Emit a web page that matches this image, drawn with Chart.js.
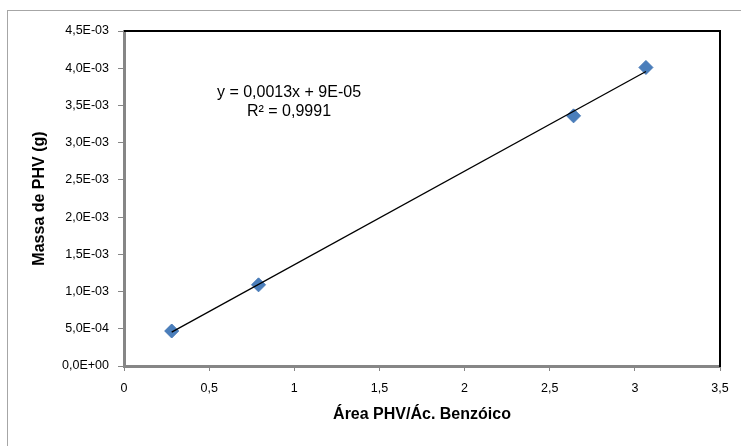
<!DOCTYPE html>
<html>
<head>
<meta charset="utf-8">
<script src="https://cdn.jsdelivr.net/npm/chart.js@4/dist/chart.umd.min.js"></script>
<style>
  html, body { margin: 0; padding: 0; background: #fff; }
  canvas { display: block; }
</style>
</head>
<body>
<canvas id="phvChart" width="741" height="446"></canvas>
<script>
// calibração: razão de áreas PHV / ácido benzoico vs massa de PHV
const areaRatio = [0.28, 0.79, 2.64, 3.065];
const massaPHV = [4.7e-4, 1.09e-3, 3.36e-3, 4.01e-3];
const xTicks = [0, 0.5, 1, 1.5, 2, 2.5, 3, 3.5];
const yTicks = [0, 5e-4, 1e-3, 1.5e-3, 2e-3, 2.5e-3, 3e-3, 3.5e-3, 4e-3, 4.5e-3];
const equationLines = ['y = 0,0013x + 9E-05', 'R² = 0,9991'];
const xTitle = 'Área PHV/Ác. Benzóico';
const yTitle = 'Massa de PHV (g)';

const FONT = '"Liberation Sans", Arial, sans-serif';

// regressão linear simples para a linha de tendência
function linearFit(xs, ys) {
  const n = xs.length;
  const mx = xs.reduce((a, b) => a + b, 0) / n;
  const my = ys.reduce((a, b) => a + b, 0) / n;
  let sxy = 0, sxx = 0;
  for (let i = 0; i < n; i++) {
    sxy += (xs[i] - mx) * (ys[i] - my);
    sxx += (xs[i] - mx) ** 2;
  }
  const slope = sxy / sxx;
  return { slope, intercept: my - slope * mx };
}

const fit = linearFit(areaRatio, massaPHV);
const xMin = Math.min(...areaRatio);
const xMax = Math.max(...areaRatio);
const trendPoints = [
  { x: xMin, y: fit.slope * xMin + fit.intercept },
  { x: xMax, y: fit.slope * xMax + fit.intercept }
];

function sciLabel(v) {
  if (Math.abs(v) < 1e-12) return '0,0E+00';
  const parts = v.toExponential(1).split('e');
  const exp = parseInt(parts[1], 10);
  return parts[0].replace('.', ',') + 'E' + (exp < 0 ? '-' : '+') + String(Math.abs(exp)).padStart(2, '0');
}

const extras = {
  id: 'extras',
  beforeDraw(chart) {
    const ctx = chart.ctx;
    ctx.save();
    ctx.fillStyle = '#fff';
    ctx.fillRect(0, 0, chart.width, chart.height);
    // moldura externa
    ctx.strokeStyle = '#a6a6a6';
    ctx.lineWidth = 1;
    ctx.strokeRect(7.5, 10.5, chart.width + 20, chart.height + 20);
    ctx.restore();
  },
  afterDraw(chart) {
    const ctx = chart.ctx;
    const a = chart.chartArea;
    ctx.save();
    // borda superior e direita da área de plotagem
    ctx.strokeStyle = '#000';
    ctx.lineWidth = 2;
    ctx.beginPath();
    ctx.moveTo(a.left, a.top);
    ctx.lineTo(a.right, a.top);
    ctx.lineTo(a.right, a.bottom + 1);
    ctx.stroke();

    ctx.fillStyle = '#000';
    ctx.textAlign = 'center';
    ctx.textBaseline = 'middle';
    ctx.font = 'bold 16px ' + FONT;
    ctx.fillText(xTitle, (a.left + a.right) / 2, 415);
    ctx.save();
    ctx.translate(40, (a.top + a.bottom) / 2);
    ctx.rotate(-Math.PI / 2);
    ctx.fillText(yTitle, 0, 0);
    ctx.restore();

    ctx.font = '16px ' + FONT;
    ctx.fillText(equationLines[0], 289, 93);
    ctx.fillText(equationLines[1], 289, 112);
    ctx.restore();
  }
};

new Chart(document.getElementById('phvChart'), {
  type: 'scatter',
  data: {
    datasets: [
      {
        label: 'Linear',
        data: trendPoints,
        showLine: true,
        borderColor: '#000',
        borderWidth: 1.3,
        pointRadius: 0,
        order: 0
      },
      {
        label: 'Massa de PHV',
        data: areaRatio.map((x, i) => ({ x, y: massaPHV[i] })),
        pointStyle: 'rectRot',
        pointRadius: 7,
        pointBackgroundColor: '#4a7ebb',
        pointBorderColor: '#4477b5',
        pointBorderWidth: 1,
        order: 1
      }
    ]
  },
  options: {
    responsive: false,
    animation: false,
    layout: { padding: { left: 0, top: 31, right: 21, bottom: 0 } },
    plugins: {
      legend: { display: false },
      tooltip: { enabled: false }
    },
    scales: {
      x: {
        type: 'linear',
        min: 0,
        max: 3.5,
        afterBuildTicks: s => { s.ticks = xTicks.map(v => ({ value: v })); },
        afterFit: s => { s.height = 80; },
        grid: { drawOnChartArea: false, tickLength: 5, tickColor: '#868686' },
        border: { color: '#868686', width: 3 },
        ticks: {
          padding: 10,
          color: '#000',
          font: { family: FONT, size: 12.5 },
          maxRotation: 0,
          callback: v => String(v).replace('.', ',')
        }
      },
      y: {
        type: 'linear',
        min: 0,
        max: 4.5e-3,
        afterBuildTicks: s => { s.ticks = yTicks.map(v => ({ value: v })); },
        afterFit: s => { s.width = 124; },
        grid: { drawOnChartArea: false, tickLength: 6, tickColor: '#868686' },
        border: { color: '#868686', width: 3 },
        ticks: {
          padding: 9,
          color: '#000',
          font: { family: FONT, size: 12.5 },
          callback: v => sciLabel(v)
        }
      }
    }
  },
  plugins: [extras]
});
</script>
</body>
</html>
